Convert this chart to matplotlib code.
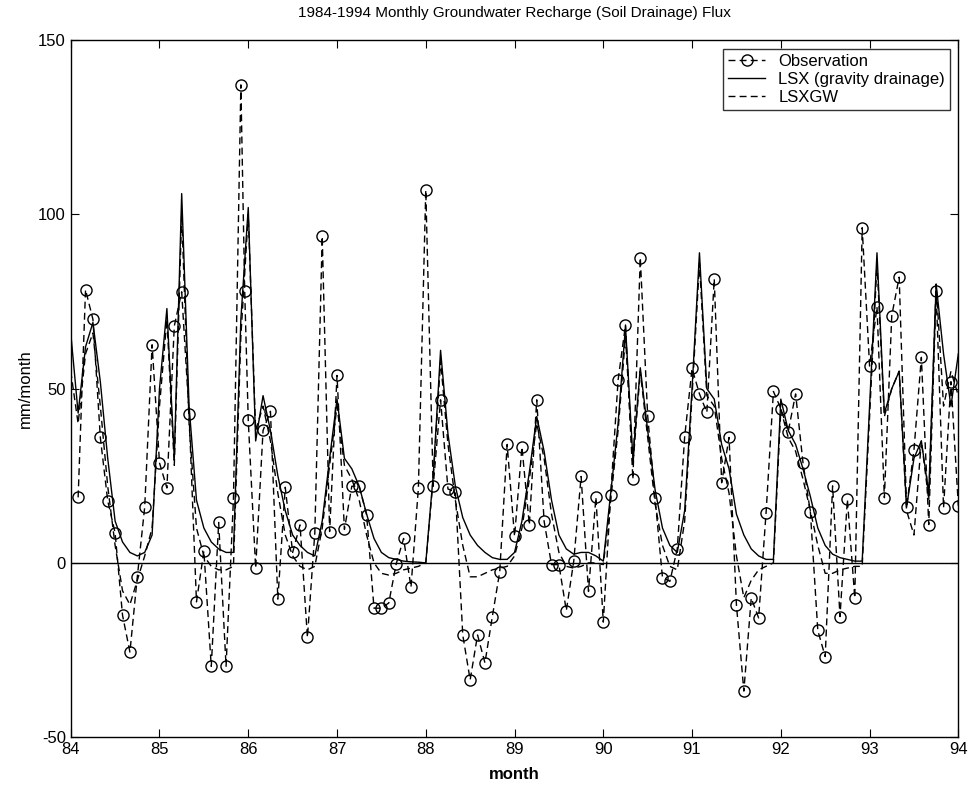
import numpy as np
import matplotlib.pyplot as plt

plt.rcParams['font.family'] = ['Liberation Sans', 'DejaVu Sans']
plt.rcParams['axes.unicode_minus'] = False

# observed recharge, one value per month (x = 84 + m/12, m = 1..120)
obs_month = list(range(1, 121))
obs = [18.8, 78.4, 69.9, 36, 17.8, 8.6, -15, -25.6, -4, 16, 62.6, 28.7,
       21.5, 68, 77.8, 42.6, -11.2, 3.4, -29.7, 11.6, -29.7, 18.5, 137.2, 40.9,
       -1.5, 38, 43.5, -10.4, 21.7, 3, 10.9, -21.4, 8.7, 93.7, 9, 53.8,
       9.6, 22, 22, 13.8, -13, -13, -11.5, -0.3, 7, -7, 21.5, 107,
       22, 46.8, 21.2, 20.4, -20.7, -33.6, -20.7, -28.7, -15.4, -2.5, 34, 7.6,
       33.3, 10.9, 46.8, 11.9, -0.5, -0.5, -13.7, 0.4, 24.8, -8.2, 18.8, -17,
       19.5, 52.5, 68.3, 24, 87.6, 42.2, 18.5, -4.2, -5.3, 4, 36.2, 55.8,
       48.5, 43.2, 81.5, 23, 36, -12.1, -36.8, -10.1, -15.8, 14.2, 49.2, 44.3,
       37.7, 48.5, 28.7, 14.5, -19.4, -26.9, 22.1, -15.4, 18.2, -10.1, 96.2, 56.5,
       73.5, 18.7, 71, 82, 16, 32.4, 59, 11, 78, 15.8, 52, 16.4]
# one extra observation just before 86
extra_x = 85.96
extra_y = 78

# model output, monthly from 84.0 (m = 0..120)
model_month = list(range(0, 121))
lsx = [66, 43, 62, 69, 52, 30, 12, 6, 3, 2, 3, 8,
       50, 73, 30, 106, 45, 18, 10, 6, 4, 3, 3, 70,
       102, 35, 48, 38, 25, 15, 8, 5, 3, 2, 12, 30,
       47, 30, 27, 22, 14, 7, 3, 1.5, 1, 0.5, 0.3, 0.2,
       0, 25, 61, 37, 22, 13, 8, 5, 3, 1.5, 1, 1,
       3, 12, 26, 42, 32, 18, 8, 4, 2.5, 3, 3, 2,
       0.5, 20, 40, 68, 30, 56, 38, 21, 10, 5, 3, 15,
       50, 89, 50, 47, 34, 27, 14, 8, 4, 2, 1, 1,
       47, 38, 34, 27, 19, 10, 5, 2.5, 1.5, 1, 0.5, 0.5,
       45, 89, 43, 50, 55, 16, 30, 35, 20, 80, 60, 45,
       60]
lsxgw = [55, 40, 60, 66, 45, 22, 5, -8, -12, -5, 2, 10,
         45, 70, 28, 100, 40, 10, 2, -1, -2, -2, -1, 65,
         100, 38, 45, 35, 20, 8, 2, -1, -2, -1, 10, 28,
         45, 28, 24, 18, 8, 0, -3, -3.5, -3, -2, -1.5, -1,
         0, 24, 58, 34, 18, 5, -4, -4, -3, -2, -1.5, -1,
         2, 10, 24, 40, 30, 14, 3, -1, -1.5, -1, 0, 0,
         -0.5, 18, 38, 65, 28, 55, 36, 17, 5, -1, -2, 12,
         48, 86, 48, 45, 30, 20, 2, -10, -5, -2, -1, 0,
         44, 36, 32, 24, 15, 5, -3, -3, -2, -1.5, -1, -1,
         42, 86, 42, 50, 55, 15, 8, 35, 18, 80, 45, 55,
         48]

obs_x = [84 + m / 12 for m in obs_month]
obs_x.insert(23, extra_x)
obs_y = list(obs)
obs_y.insert(23, extra_y)
mod_x = [84 + m / 12 for m in model_month]

fig = plt.figure(figsize=(9.69, 7.9), dpi=100)
ax = fig.add_axes([0.073, 0.067, 0.916, 0.882])

ax.plot(obs_x, obs_y, color='black', linestyle=(0, (5, 3)), linewidth=1,
        marker='o', markersize=8, markerfacecolor='none',
        markeredgecolor='black', markeredgewidth=1, label='Observation')
ax.plot(mod_x, lsx, color='black', linestyle='-', linewidth=1,
        label='LSX (gravity drainage)')
ax.plot(mod_x, lsxgw, color='black', linestyle=(0, (5, 3)), linewidth=1,
        label='LSXGW')
ax.axhline(0, color='black', linewidth=1)

ax.set_xlim(84, 94)
ax.set_ylim(-50, 150)
ax.set_xticks(range(84, 95))
ax.set_yticks([-50, 0, 50, 100, 150])
ax.tick_params(direction='in', top=True, right=True, labelsize=12, length=6)
for s in ax.spines.values():
    s.set_linewidth(1)

ax.set_title('1984-1994 Monthly Groundwater Recharge (Soil Drainage) Flux',
             fontsize=11, pad=17)
ax.set_xlabel('month', fontsize=12, fontweight='bold', labelpad=7)
ax.set_ylabel('mm/month', fontsize=12, labelpad=4)

leg = ax.legend(loc='upper right', fontsize=12, frameon=True, fancybox=False,
                handlelength=2.2, borderaxespad=0.5, labelspacing=0.2,
                borderpad=0.3)
leg.get_frame().set_edgecolor('black')
leg.get_frame().set_linewidth(1)

fig.savefig('out.png', dpi=100)
